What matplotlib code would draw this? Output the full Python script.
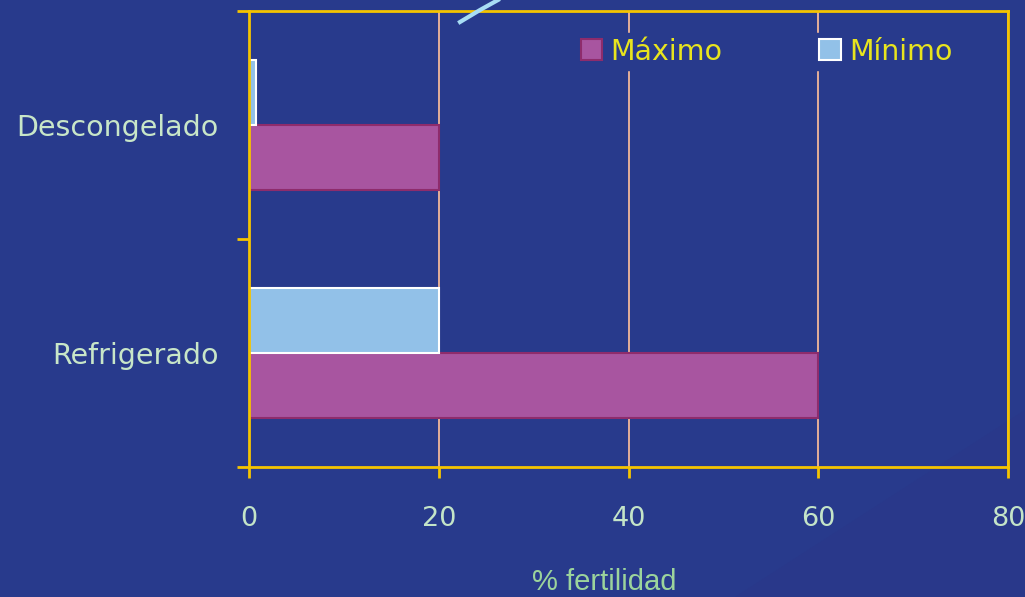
import numpy as np
import matplotlib
matplotlib.use('Agg')
import matplotlib.pyplot as plt
from matplotlib.lines import Line2D
from matplotlib.patches import Polygon

# data
categories = ['Refrigerado', 'Descongelado']
maximo = [60, 20]
minimo = [20, 0.7]
xticks = [0, 20, 40, 60, 80]

bg = '#283A8C'
gold = '#F5C400'
peach = '#F2B89A'

fig = plt.figure(figsize=(10.25, 5.97), dpi=100, facecolor=bg)

# faint darker band bottom right (behind the axes)
fig.patches.append(Polygon([(735/1025, 0), (1, 1-410/597), (1, 0)], closed=True,
                           transform=fig.transFigure, facecolor='#29388A', edgecolor='none', zorder=-5))

ax = fig.add_axes([249/1025, 1-467/597, 759/1025, 456/597])
ax.set_facecolor('none')

y = np.arange(len(categories))
h = 0.286
b1 = ax.barh(y - h/2, maximo, h, color='#A855A0', edgecolor='#8E2C6C', linewidth=1.5, label='Máximo', zorder=3)
b2 = ax.barh(y + h/2, minimo, h, color='#92C1E8', edgecolor='white', linewidth=1.5, label='Mínimo', zorder=3)

ax.set_xlim(0, 80)
ax.set_ylim(-0.5, 1.5)

# grid lines
ax.set_xticks(xticks)
ax.grid(axis='x', color=peach, linewidth=1.3, zorder=1)
ax.set_axisbelow(True)

for s in ax.spines.values():
    s.set_color(gold)
    s.set_linewidth(2)
    s.set_zorder(4)

ax.tick_params(axis='x', colors=gold, length=8, width=2, pad=20, labelcolor='#C4E4C8', labelsize=19.5)

# y ticks at boundaries, labels at centres
ax.set_yticks([-0.5, 0.5, 1.5])
ax.set_yticklabels([])
ax.tick_params(axis='y', which='major', colors=gold, length=9, width=2)
ax.set_yticks(y, minor=True)
ax.set_yticklabels(categories, minor=True)
ax.tick_params(axis='y', which='minor', length=0, pad=22, labelcolor='#C8E6C8', labelsize=20.5)

leg = ax.legend(handles=[b1, b2], ncol=2, loc='upper left', bbox_to_anchor=(562/1025, 1-19/597),
                bbox_transform=fig.transFigure, frameon=True, facecolor=bg, edgecolor=bg, framealpha=1,
                fontsize=20.5, handlelength=0.76, handleheight=0.76, handletextpad=0.3,
                columnspacing=3.4, borderpad=0.15, fancybox=False)
for t in leg.get_texts():
    t.set_color('#E8E41E')
leg.set_zorder(5)

fig.text(604/1025, 7/597, '% fertilidad', ha='center', va='baseline', color='#9CD49C',
         fontsize=21, family='Liberation Sans')

# light blue stroke at the top
fig.add_artist(Line2D([460/1025, 480/1025, 498/1025], [1-22/597, 1-10/597, 1], color='#A8DDF5',
                      linewidth=3, transform=fig.transFigure))

fig.savefig('out.png', dpi=100, facecolor=bg)
